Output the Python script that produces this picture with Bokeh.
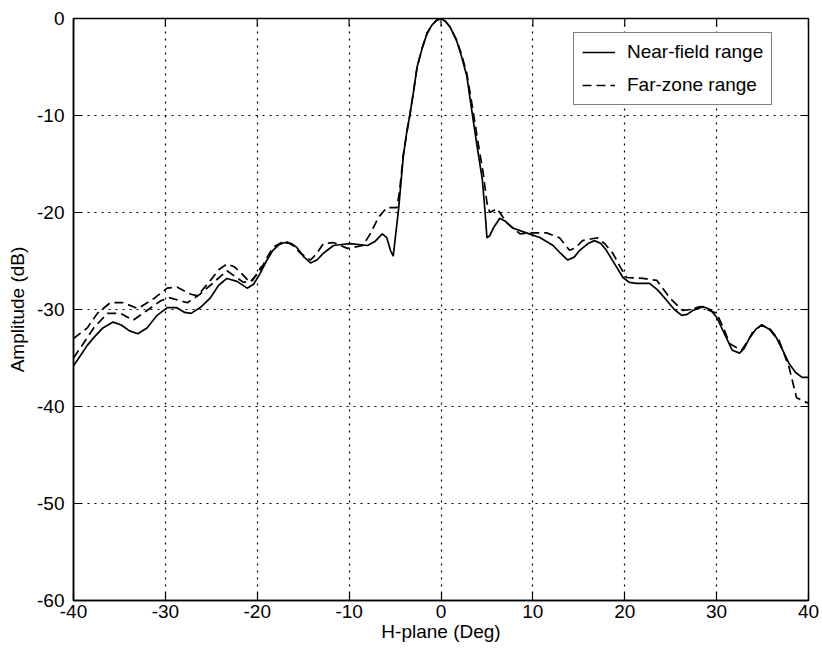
import math
from bokeh.plotting import figure
from bokeh.models import Legend, LegendItem, FixedTicker, Range1d
from bokeh.embed import file_html
from bokeh.resources import INLINE

# Near-field range (solid)
near_x = [-40, -39.2, -38.5, -37.8, -36.8, -35.7, -34.8, -33.9, -33.0, -32.0, -30.9, -29.8,
          -28.8, -27.9, -27.2, -26.2, -25.1, -24.2, -23.3, -22.2, -21.1, -20.4, -19.7, -19.0,
          -18.3, -17.6, -17.0, -16.3, -15.7, -14.9, -14.2, -13.5, -12.8, -11.7, -10.8, -9.9,
          -8.0, -7.2, -6.4, -5.9, -5.5, -5.2, -4.9, -4.6, -4.1, -3.7, -3.4, -3.0, -2.6, -2.0,
          -1.5, -1.0, -0.5, 0.0, 0.5, 1.0, 1.7, 2.2, 2.8, 3.4, 3.9, 4.5, 4.8, 5.0, 5.3, 5.7,
          6.4, 7.0, 7.8, 9.3, 10.8,
          12.2, 13.0, 13.8, 14.5, 15.1, 16.0, 16.7, 17.4, 18.0, 18.9, 19.8, 20.5, 21.3, 22.7,
          23.6, 24.6, 25.4, 26.2, 26.8, 27.4, 28.5, 29.3, 30.0, 30.9, 31.7, 32.5, 33.0, 33.6,
          34.3, 34.9, 35.7, 36.5, 37.2, 37.9, 38.6, 39.3, 40.0]
near_y = [-35.8, -34.7, -33.7, -32.9, -31.9, -31.3, -31.6, -32.2, -32.5, -31.9, -30.6, -29.8,
          -29.8, -30.3, -30.4, -29.8, -28.8, -27.5, -26.8, -27.1, -27.8, -27.4, -26.3, -25.0,
          -23.9, -23.3, -23.1, -23.2, -23.6, -24.6, -25.2, -24.9, -24.2, -23.4, -23.3, -23.2,
          -23.4, -23.0, -22.2, -22.6, -23.9, -24.5, -22.0, -19.5, -14.2, -11.5, -10.0, -7.6, -5.0, -2.9,
          -1.5, -0.7, -0.2, 0.0, -0.3, -0.9, -2.3, -3.8, -5.9, -9.8, -13.0, -16.6, -20.0, -22.6, -22.4, -21.6,
          -20.6, -20.9, -21.6, -22.1, -22.6,
          -23.4, -24.2, -24.9, -24.6, -23.9, -23.2, -22.9, -23.2, -23.9, -25.3, -26.7, -27.2, -27.3, -27.3,
          -28.0, -29.1, -30.0, -30.6, -30.5, -30.1, -29.7, -30.0, -30.8, -32.6, -34.2, -34.5, -34.0, -32.9,
          -32.0, -31.6, -32.0, -32.9, -34.2, -35.6, -36.5, -37.0, -37.0]

# Far-zone range (dashed)
far_x = [-40, -39.6, -38.5, -37.4, -36.0, -34.6, -33.0, -31.3, -29.8, -28.7, -27.3, -26.5,
         -25.1, -24.2, -23.3, -22.5, -21.8, -20.8, -19.7, -18.9, -18.3, -17.0, -16.1, -15.3,
         -14.2, -13.5, -12.8, -11.7, -10.2, -8.5, -7.7, -6.8, -5.9, -4.8, -4.5, -4.1, -3.4,
         -3.0, -2.6, -2.0, -1.5, -1.0, -0.5, 0.0, 0.5, 1.0, 1.7, 2.2, 2.8, 3.4, 4.0, 4.6, 5.0,
         5.3, 6.1, 7.2, 8.6, 10.0,
         11.5, 12.9, 14.0, 14.7, 15.4, 17.0, 17.8, 18.7, 19.5, 20.2, 22.0, 23.5, 24.9, 26.3,
         27.2, 28.2, 30.0, 30.7, 31.4, 32.7, 33.3, 33.9, 34.9, 35.8, 36.8, 37.9, 38.7, 39.8, 40.0]
far_y = [-33.0, -32.7, -31.9, -30.4, -29.3, -29.3, -29.9, -28.9, -27.8, -27.7, -28.4, -28.6,
         -27.0, -25.9, -25.3, -25.6, -26.2, -27.2, -26.0, -24.6, -23.6, -22.9, -23.4, -24.2,
         -24.9, -24.2, -23.2, -23.1, -23.7, -23.4, -22.2, -20.5, -19.5, -19.5, -17.7, -14.0, -10.0,
         -7.6, -5.0, -2.9, -1.5, -0.7, -0.2, 0.0, -0.3, -0.9, -2.2, -3.6, -5.6, -9.0, -12.6, -16.0, -19.0,
         -20.0, -19.6, -21.1, -22.2, -22.1,
         -22.1, -22.6, -23.9, -23.6, -22.9, -22.6, -23.2, -24.2, -25.6, -26.7, -26.8, -27.0, -28.8, -30.1,
         -30.0, -29.7, -30.4, -31.8, -33.5, -34.2, -33.4, -32.4, -31.6, -32.0, -33.2, -36.0, -39.1, -39.6, -39.6]

# Second far-zone trace visible on the left side (dashed)
far2_x = [-40, -39.0, -37.8, -36.3, -34.9, -33.5, -32.0, -30.5, -29.5, -27.6, -26.2, -25.1,
          -23.3, -21.5, -20.5, -19.5]
far2_y = [-35.0, -33.6, -31.9, -30.4, -30.4, -31.1, -30.1, -29.1, -28.8, -29.3, -28.4, -27.5,
          -26.0, -27.2, -27.0, -25.5]

x_ticks = [-40, -30, -20, -10, 0, 10, 20, 30, 40]
y_ticks = [-60, -50, -40, -30, -20, -10, 0]
series_labels = ["Near-field range", "Far-zone range"]

FONT = "Liberation Sans"
FS = "19px"

p = figure(frame_width=735, frame_height=582, output_backend="svg", toolbar_location=None,
           x_range=Range1d(x_ticks[0], x_ticks[-1]), y_range=Range1d(y_ticks[0], y_ticks[-1]),
           min_border_left=73, min_border_right=14, min_border_top=18, min_border_bottom=48,
           x_axis_label="H-plane (Deg)", y_axis_label="Amplitude (dB)")
p.background_fill_color = "white"
p.border_fill_color = "white"
p.outline_line_color = "black"
p.outline_line_width = 1.5

for ax in (p.xaxis[0], p.yaxis[0]):
    ax.major_label_text_font = FONT
    ax.major_label_text_font_size = FS
    ax.major_label_text_color = "black"
    ax.axis_label_text_font = FONT
    ax.axis_label_text_font_size = FS
    ax.axis_label_text_font_style = "normal"
    ax.axis_label_text_color = "black"
    ax.major_tick_in = 8
    ax.major_tick_out = 0
    ax.minor_tick_line_color = None
    ax.axis_line_width = 1.5
    ax.major_tick_line_width = 1.2
p.xaxis[0].ticker = FixedTicker(ticks=x_ticks)
p.yaxis[0].ticker = FixedTicker(ticks=y_ticks)
p.xaxis[0].major_label_overrides = {t: str(t) for t in x_ticks}
p.yaxis[0].major_label_overrides = {t: str(t) for t in y_ticks}
p.xaxis[0].major_label_standoff = 4
p.xaxis[0].axis_label_standoff = 0
p.yaxis[0].major_label_standoff = 9
p.yaxis[0].axis_label_standoff = 6

# inward ticks on the right and top edges of the box
p.ray(x=[x_ticks[-1]] * len(y_ticks), y=y_ticks, length=8, length_units="screen",
      angle=math.pi, line_color="black", line_width=1.2)
p.ray(x=x_ticks, y=[y_ticks[-1]] * len(x_ticks), length=8, length_units="screen",
      angle=-math.pi / 2, line_color="black", line_width=1.2)

p.xgrid.ticker = FixedTicker(ticks=x_ticks)
p.ygrid.ticker = FixedTicker(ticks=y_ticks)
for g in (p.xgrid[0], p.ygrid[0]):
    g.grid_line_color = "black"
    g.grid_line_dash = "2 5"
    g.grid_line_width = 1.2

r_near = p.line(near_x, near_y, line_color="black", line_width=1.7)
r_far = p.line(far_x, far_y, line_color="black", line_width=1.7, line_dash="9 5")
p.line(far2_x, far2_y, line_color="black", line_width=1.7, line_dash="9 5")

legend = Legend(items=[LegendItem(label=series_labels[0], renderers=[r_near]),
                       LegendItem(label=series_labels[1], renderers=[r_far])],
                location=(500, 495))
legend.label_text_font = FONT
legend.label_text_font_size = FS
legend.label_text_color = "black"
legend.border_line_color = "black"
legend.border_line_width = 1.2
legend.background_fill_color = "white"
legend.background_fill_alpha = 1.0
legend.glyph_width = 33
legend.glyph_height = 20
legend.label_height = 20
legend.spacing = 11
legend.padding = 8
legend.margin = 0
legend.label_standoff = 12
p.add_layout(legend, "center")

open("out.html", "w").write(file_html(p, INLINE))
